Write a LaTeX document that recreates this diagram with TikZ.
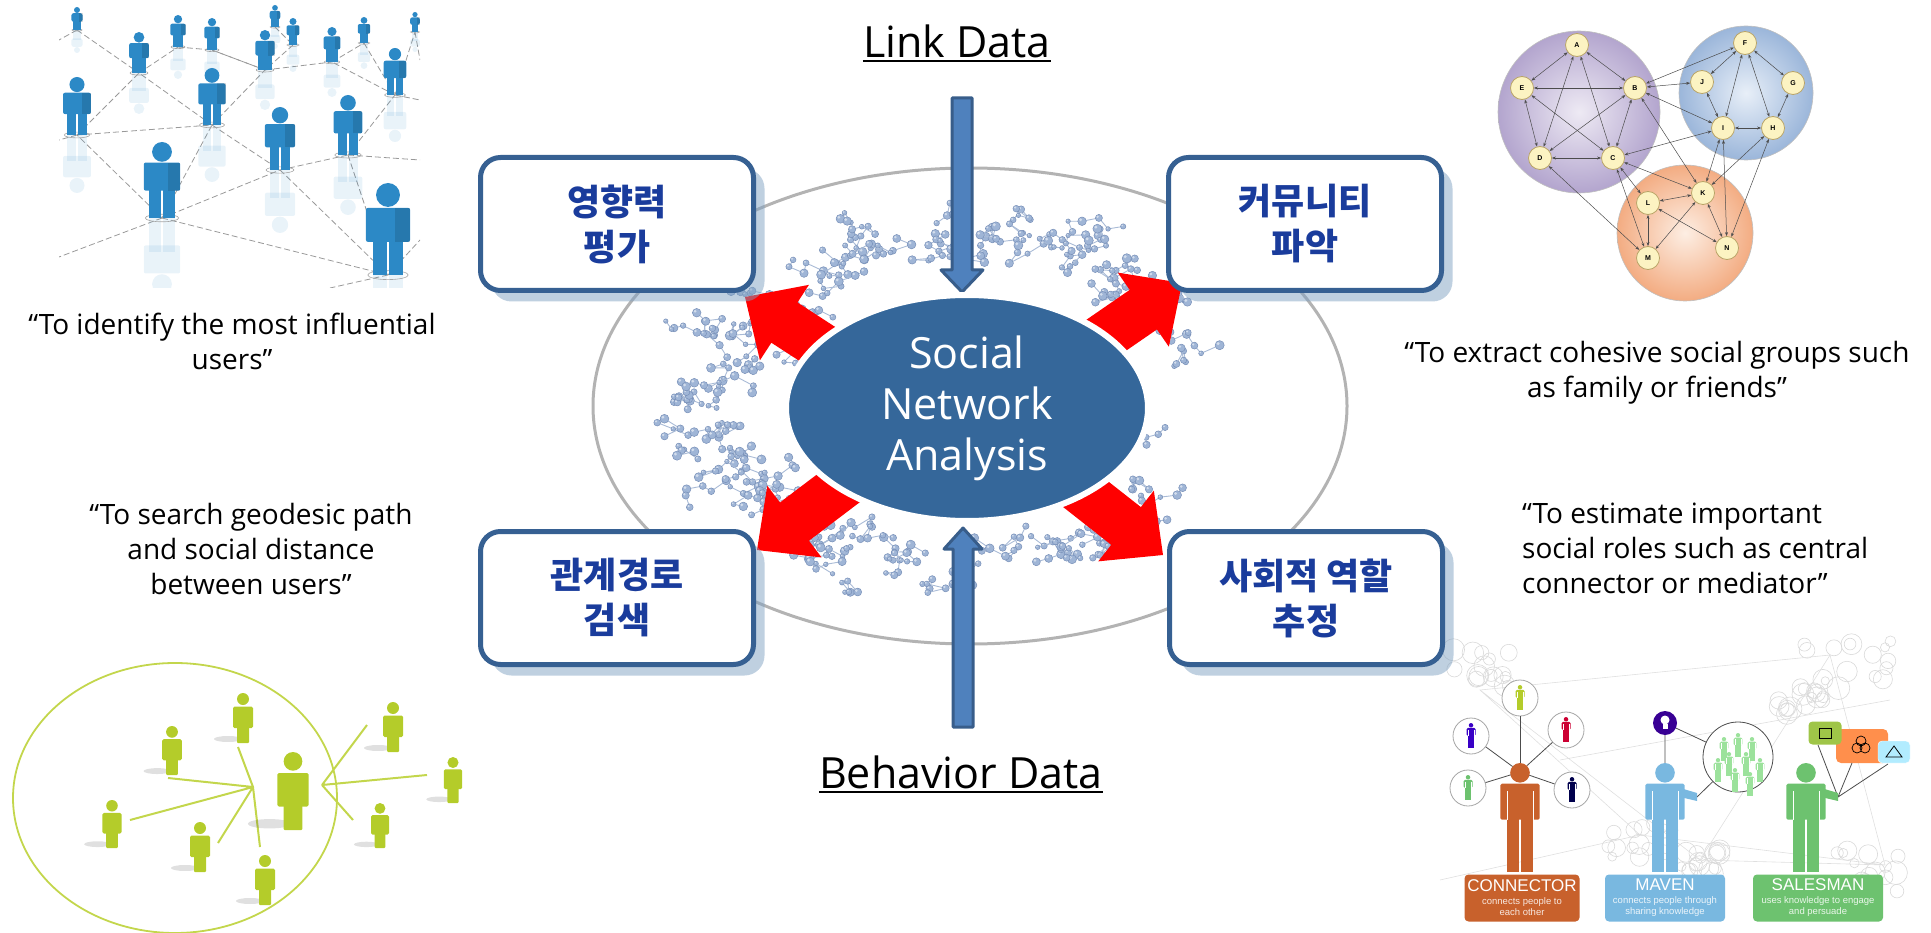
\documentclass[tikz,border=0pt]{standalone}
\usepackage{fontspec}
\setmainfont{Open Sans}
\newfontfamily\kr{Noto Sans CJK KR}
\newfontfamily\arialx{Liberation Sans}
\usetikzlibrary{calc,shapes.geometric,shadows,arrows.meta}

\definecolor{boxblue}{HTML}{366092}
\definecolor{krblue}{HTML}{1A3C9C}
\definecolor{snafill}{HTML}{35679A}
\definecolor{arrfill}{HTML}{4F81BD}
\definecolor{arrdraw}{HTML}{385D8A}
\definecolor{shadowcol}{HTML}{7FA1C1}
\definecolor{ringgray}{HTML}{B3B3B3}
\definecolor{molblue}{HTML}{9FB5D6}
\definecolor{molrim}{HTML}{7890B8}
\definecolor{molstickc}{HTML}{A9BBD6}
\definecolor{peopleblue}{HTML}{2C89C6}
\definecolor{limefig}{HTML}{B4CC2A}
\definecolor{limeline}{HTML}{C3D64C}
\definecolor{conorange}{HTML}{C8612C}
\definecolor{mavenblue}{HTML}{79B8E0}
\definecolor{salesgreen}{HTML}{6DC26F}
\definecolor{nodeyellow}{HTML}{FCF3C2}
\definecolor{nodeedge}{HTML}{B9A467}
\definecolor{purpin}{HTML}{EEEAF4}
\definecolor{purpout}{HTML}{B3A5CE}
\definecolor{bluin}{HTML}{E8EFF8}
\definecolor{bluout}{HTML}{9BB6DA}
\definecolor{orgin}{HTML}{FDEEE3}
\definecolor{orgout}{HTML}{F3AC82}

% blue 3D person, unit height (head top 0, feet 1)
\newcommand\bluebody{%
  \fill (0,0.13) circle (0.13);
  \fill[rounded corners=2pt] (-0.24,0.27) rectangle (0.24,0.64);
  \fill (-0.165,0.55) rectangle (-0.012,1);
  \fill (0.012,0.55) rectangle (0.165,1);
}
\newcommand\bluefig[3]{%
  \pgfmathsetmacro\hh{#3-#2}%
  \begin{scope}[shift={(#1,{#2+2*\hh})},xscale=\hh,yscale=-\hh,fill=peopleblue,opacity=0.10]\bluebody\end{scope}%
  \draw[gray!70,line width=0.6pt] (#1,#3) ellipse ({0.22*\hh} and {0.05*\hh});%
  \begin{scope}[shift={(#1,#2)},scale=\hh,fill=peopleblue]\bluebody
    \fill[black,opacity=0.12] (0.08,0.27) rectangle (0.24,0.64);
  \end{scope}%
}
% flat green person
\newcommand\greenbody{%
  \fill (0,0.12) circle (0.12);
  \fill[rounded corners=1.5pt] (-0.2,0.27) rectangle (0.2,0.7);
  \fill[rounded corners=1pt] (-0.12,0.6) rectangle (0.12,1);
}
\newcommand\greenfig[3]{%
  \pgfmathsetmacro\hh{#3-#2}%
  \fill[black,opacity=0.12] ({#1-0.3*\hh},{#3-0.08*\hh}) ellipse ({0.28*\hh} and {0.06*\hh});%
  \begin{scope}[shift={(#1,#2)},scale=\hh,fill=limefig]\greenbody\end{scope}%
}
% role figure
\newcommand\rolebody{%
  \fill (0,0.09) circle (0.09);
  \fill[rounded corners=1.5pt] (-0.18,0.19) rectangle (0.18,0.52);
  \fill (-0.115,0.5) rectangle (-0.01,1);
  \fill (0.01,0.5) rectangle (0.115,1);
}
\newcommand\rolefig[4]{%
  \begin{scope}[shift={(#1,#2)},scale=#3,fill=#4]\rolebody
    \draw[white,line width=0.5pt] (-0.12,0.26) -- (-0.12,0.52) (0.12,0.26) -- (0.12,0.52);
  \end{scope}}
% one molecule ball
\newcommand\molball[2]{%
  \pgfmathsetmacro\mr{2.2+2.4*rnd}%
  \filldraw[fill=molblue,draw=molrim,line width=0.5pt] (#1,#2) circle (\mr);%
  \fill[white,opacity=0.55] ({#1-0.35*\mr},{#2-0.35*\mr}) circle ({0.35*\mr});%
}
% red block arrow: tip, tail
\newcommand\redarrow[2]{%
  \fill[red] (#1)
    -- ($($(#1)!47pt!(#2)$)!45pt!90:(#1)$)
    -- ($($(#1)!47pt!(#2)$)!24pt!90:(#1)$)
    -- ($(#2)!24pt!90:(#1)$)
    -- ($(#2)!24pt!-90:(#1)$)
    -- ($($(#1)!47pt!(#2)$)!24pt!-90:(#1)$)
    -- ($($(#1)!47pt!(#2)$)!45pt!-90:(#1)$)
    -- cycle;}

\begin{document}
\begin{tikzpicture}[x=1pt,y=-1pt,
  kbox/.style={draw=boxblue,line width=5pt,fill=white,rounded corners=20pt,
    minimum width=273pt,minimum height=133pt,inner sep=0pt,align=center,
    font=\kr\bfseries\fontsize{36}{45}\selectfont,text=krblue,
    drop shadow={shadow xshift=11pt,shadow yshift=-11pt,fill=shadowcol,opacity=0.5}},
  caption/.style={inner sep=0pt,align=center,font=\fontsize{28}{35}\selectfont},
  molstick/.style={draw=molstickc,line width=0.9pt},
  dashedline/.style={gray!80,line width=0.8pt,dash pattern=on 6pt off 3pt},
  gnode/.style={circle,fill=nodeyellow,draw=nodeedge,line width=0.8pt,minimum size=23pt,
    inner sep=0pt,font=\arialx\bfseries\fontsize{7}{7}\selectfont},
  gedge/.style={gray!60!black,line width=0.5pt,{Stealth[length=4pt,width=3pt]}-{Stealth[length=4pt,width=3pt]}},
  ring/.style={circle,draw=gray!70,line width=0.8pt,fill=white,minimum size=36pt,inner sep=0pt},
  rolelabel/.style={rounded corners=4pt,minimum height=47pt,inner sep=1pt,align=center,text=white,
    font=\arialx\fontsize{9.5}{11.5}\selectfont},
  bgcirc/.style={draw=gray!30,line width=0.6pt},
  bgline/.style={draw=gray!25,line width=0.6pt}
]
\useasboundingbox (0,0) rectangle (1931,933);

% ---------- people network (top left) ----------
\begin{scope}
  \clip (59,0) rectangle (420,288);
  \foreach \i/\x/\t/\f in {1/77/7/30,2/178/15/47,3/212/18/50,4/275/5/27,5/293/18/45,
      6/364/17/43,7/415/12/32,8/139/32/73,9/265/30/70,10/332/27/62,11/395/48/95,
      12/77/77/135,13/212/68/125,14/348/95/155,15/280/107/170,16/162/142/218,17/388/183/275}
    \coordinate (p\i) at (\x,\f);
  \coordinate (pe1) at (59,257); \coordinate (pe2) at (420,240);
  \coordinate (pe3) at (330,288); \coordinate (pe4) at (420,160);
  \coordinate (pe5) at (59,140); \coordinate (pe6) at (420,100);
  \coordinate (pe7) at (59,40); \coordinate (pe8) at (420,60);
  \foreach \a/\b in {16/13,16/15,16/12,13/8,13/9,13/15,15/14,14/11,14/17,16/17,12/8,
      8/2,9/10,9/3,11/10,11/7,10/6,2/3,1/8,4/5,5/9,3/9,6/11,16/e1,17/e2,17/e3,14/e4,
      12/e5,11/e6,1/e7,7/e8,15/17,12/13}
    \draw[dashedline] (p\a) -- (p\b);
  \foreach \x/\t/\f in {275/5/27,77/7/30,415/12/32,364/17/43,293/18/45,178/15/47,
      212/18/50,332/27/62,265/30/70,139/32/73,395/48/95,212/68/125,77/77/135,
      348/95/155,280/107/170,162/142/218,388/183/275}
    {\bluefig{\x}{\t}{\f}}
\end{scope}

% ---------- geodesic picture (bottom left) ----------
\draw[limeline,line width=1.8pt] (175,798) ellipse (162 and 135);
\coordinate (h1) at (253,787);
\coordinate (h2) at (322,785);
\draw[limeline,line width=2pt] (h1) -- (168,778) (h1) -- (130,820) (h1) -- (218,843)
  (238,747) -- (h1) -- (260,847)
  (h2) -- (367,725) (h2) -- (427,775) (h2) -- (353,820);
\foreach \x/\t/\f in {243/693/743,172/726/775,393/702/752,112/800/848,200/822/872,
    453/757/803,380/803/848,265/855/905,293/752/830}
  {\greenfig{\x}{\t}{\f}}

% ---------- community graph (top right) ----------
\shade[inner color=purpin,outer color=purpout] (1579,112) circle (81);
\draw[gray!50,line width=0.6pt] (1579,112) circle (81);
\shade[inner color=bluin,outer color=bluout] (1746,93) circle (67);
\draw[gray!50,line width=0.6pt] (1746,93) circle (67);
\shade[inner color=orgin,outer color=orgout] (1685,233) circle (68);
\draw[gray!50,line width=0.6pt] (1685,233) circle (68);
\foreach \n/\x/\y in {A/1577/45,E/1522/88,B/1635/88,D/1540/158,C/1613/158,F/1745/43,
    J/1702/82,G/1793/83,I/1723/128,H/1773/128,K/1703/193,L/1648/203,M/1648/258,N/1727/248}
  \node[gnode] (\n) at (\x,\y) {\n};
\foreach \a/\b in {A/E,A/B,A/D,A/C,E/B,E/D,E/C,B/D,B/C,D/C,B/J,B/F,B/I,C/I,C/K,C/L,
    C/M,D/M,B/K,F/J,F/G,F/I,F/H,J/I,G/H,I/H,I/K,I/N,H/K,H/N,L/K,L/M,L/N,M/K,N/K}
  \draw[gedge] (\a) -- (\b);

% ---------- social roles (bottom right) ----------
\begin{scope}
  \pgfmathsetseed{21}
  \foreach \cx/\cy/\sp in {1485/668/32,1845/660/48,1640/838/34,1872/872/36,1700/862/20,1800/700/25}{
    \foreach \j in {1,...,16}{
      \pgfmathsetmacro\px{\cx+rand*\sp}
      \pgfmathsetmacro\py{\cy+rand*\sp*0.6}
      \pgfmathsetmacro\rr{4+8*rnd}
      \draw[bgcirc] (\px,\py) circle (\rr);
    }
  }
  \draw[bgline] (1480,690) -- (1830,655) -- (1885,865) -- (1640,835) -- cycle
    (1480,690) -- (1700,860) -- (1830,655) (1560,760) -- (1890,700)
    (1440,880) -- (1640,835) (1700,860) -- (1885,865);
\end{scope}
% connector
\node[circle,minimum size=18pt,inner sep=0pt] (conhead) at (1520,772) {};
\foreach \n/\x/\y/\c in {c1/1520/698/limefig,c2/1471/736/blue!55!violet,c3/1566/730/purple!80!red,
    c4/1468/788/salesgreen,c5/1572/790/blue!30!black}{
  \node[ring] (\n) at (\x,\y) {};
  \draw[gray!60!black,line width=0.8pt] (\n) -- (conhead);
  \rolefig{\x}{\y-13}{25}{\c}
}
\rolefig{1520}{763}{109}{conorange}
% maven
\node[circle,minimum size=18pt,inner sep=0pt] (mavhead) at (1665,772) {};
\node[circle,fill=blue!45!violet!80!black,minimum size=24pt,inner sep=0pt] (bulb) at (1665,723) {};
\fill[white] (1665,720) circle (4.5);
\fill[white] (1662.5,724) rectangle (1667.5,729);
\node[circle,draw=gray!60!black,fill=white,line width=0.8pt,minimum size=70pt,inner sep=0pt] (crowd) at (1738,757) {};
\foreach \x/\y in {1724/737,1738/733,1752/737,1729/752,1746/752,1760/758,1718/758,1735/768,1750/772}
  \rolefig{\x}{\y}{24}{gray!45!green!50!white}
\coordinate (mavhand) at (1697,797);
\draw[gray!60!black,line width=0.8pt] (bulb) -- (mavhead) (bulb) -- (crowd) (mavhand) -- (crowd);
\rolefig{1665}{763}{109}{mavenblue}
\fill[mavenblue] (1680,788) -- (1697,793) -- (1697,801) -- (1680,797) -- cycle;
% salesman
\coordinate (salhand) at (1838,797);
\node[rounded corners=5pt,fill=orange!75!red!70!white,minimum width=52pt,minimum height=34pt] (shp2) at (1862,746) {};
\node[rounded corners=4pt,fill=yellow!60!green!75!gray,minimum width=33pt,minimum height=23pt] (shp1) at (1825,733) {};
\node[rounded corners=4pt,fill=blue!25!cyan!30!white,draw=white,minimum width=32pt,minimum height=22pt] (shp3) at (1894,752) {};
\draw[black,line width=0.8pt] (1819,728) rectangle (1831,738);
\draw[black,line width=0.7pt] (1861,741) circle (5) (1857,748) circle (5) (1865,748) circle (5);
\draw[black,line width=0.8pt] (1886,757) -- (1894,746) -- (1902,757) -- cycle;
\draw[gray!60!black,line width=0.8pt] (salhand) -- (1818,745) (salhand) -- (1852,763) (salhand) -- (1888,764);
\rolefig{1806}{763}{109}{salesgreen}
\fill[salesgreen] (1821,788) -- (1838,793) -- (1838,801) -- (1821,797) -- cycle;
% role labels
\node[rolelabel,fill=conorange,minimum width=115pt] (conlab) at (1522,898)
  {{\fontsize{17}{17}\selectfont CONNECTOR}\\[1pt]{\color{white!85!conorange}connects people to}\\{\color{white!85!conorange}each other}};
\node[rolelabel,fill=mavenblue,minimum width=120pt] (mavlab) at (1665,898)
  {{\fontsize{17}{17}\selectfont MAVEN}\\[1pt]{\color{white!85!mavenblue}connects people through}\\{\color{white!85!mavenblue}sharing knowledge}};
\node[rolelabel,fill=salesgreen,minimum width=130pt] (sallab) at (1818,898)
  {{\fontsize{17}{17}\selectfont SALESMAN}\\[1pt]{\color{white!85!salesgreen}uses knowledge to engage}\\{\color{white!85!salesgreen}and persuade}};

% ---------- captions ----------
\node[caption,anchor=north] (cap1) at (232,313) {“To identify the most influential\\users”};
\node[caption,anchor=north] (cap2) at (1657,341) {“To extract cohesive social groups such\\as family or friends”};
\node[caption,anchor=north] (cap3) at (251,503) {“To search geodesic path\\and social distance\\between users”};
\node[caption,anchor=north west,align=left] (cap4) at (1522,503) {“To estimate important\\social roles such as central\\connector or mediator”};

% ---------- central diagram ----------
\draw[ringgray,line width=3pt] (970,406) ellipse (377 and 238);

% molecule chains around the hub
\pgfmathsetseed{7}
\foreach \ang/\k/\cnt in {-170/1.36/4,-155/1.36/5,-140/1.38/5,-125/1.45/5,-110/1.52/5,
    -95/1.55/5,-80/1.55/5,-65/1.5/6,-50/1.42/5,-37/1.33/3,-19/1.3/2,2/1.16/1,
    178/1.4/5,165/1.42/5,152/1.4/5,140/1.38/5,127/1.42/6,113/1.45/5,100/1.42/4,
    84/1.4/4,70/1.4/4,55/1.36/4,40/1.34/3}{
  \pgfmathsetmacro\cx{967+\k*182*cos(\ang)}
  \pgfmathsetmacro\cy{408+\k*113*sin(\ang)}
  \foreach \c in {1,...,\cnt}{
    \pgfmathsetmacro\sx{\cx+36*rand}
    \pgfmathsetmacro\sy{\cy+24*rand}
    \xdef\lx{\sx}\xdef\ly{\sy}
    \foreach \s in {1,...,5}{
      \pgfmathsetmacro\nx{\lx+19*rand}
      \pgfmathsetmacro\ny{\ly+13*rand}
      \draw[molstick] (\lx,\ly) -- (\nx,\ny);
      \molball{\lx}{\ly}
      \xdef\lx{\nx}\xdef\ly{\ny}
    }
    \molball{\lx}{\ly}
  }
}

% red arrows out of the hub
\coordinate (r1tip) at (745,297);  \coordinate (r1tail) at (879,384);
\coordinate (r2tip) at (1182,283); \coordinate (r2tail) at (1050,374);
\coordinate (r3tip) at (757,550);  \coordinate (r3tail) at (885,453);
\coordinate (r4tip) at (1163,555); \coordinate (r4tail) at (1037,456);
\redarrow{r1tip}{r1tail}
\redarrow{r2tip}{r2tail}
\redarrow{r3tip}{r3tail}
\redarrow{r4tip}{r4tail}

% blue input arrows
\filldraw[fill=arrfill,draw=arrdraw,line width=3pt,line join=round]
  (952,98) -- (972,98) -- (972,270) -- (983,270) -- (962,292) -- (941,270) -- (952,270) -- cycle;
\filldraw[fill=arrfill,draw=arrdraw,line width=3pt,line join=round]
  (963,528) -- (982,549) -- (973,549) -- (973,727) -- (953,727) -- (953,549) -- (944,549) -- cycle;

\node[ellipse,fill=snafill,draw=white,line width=6pt,minimum width=362pt,minimum height=226pt,
  inner sep=0pt,text=white,align=center,font=\fontsize{43}{51}\selectfont] (sna) at (967,408)
  {Social\\Network\\Analysis};

\node[kbox] (b1) at (617,224) {영향력\\평가};
\node[kbox] (b2) at (1305,224) {커뮤니티\\파악};
\node[kbox] (b3) at (617,598) {관계경로\\검색};
\node[kbox] (b4) at (1306,598) {사회적 역할\\추정};

\node[anchor=base,inner sep=0pt,font=\fontsize{43}{50}\selectfont] (link) at (957,58) {Link Data};
\draw[line width=2pt] ([yshift=-3.5pt]link.base west) -- ([yshift=-3.5pt]link.base east);
\node[anchor=base,inner sep=0pt,font=\fontsize{43}{50}\selectfont] (behav) at (961,788) {Behavior Data};
\draw[line width=2pt] ([yshift=-4pt]behav.base west) -- ([yshift=-4pt]behav.base east);
\end{tikzpicture}
\end{document}
